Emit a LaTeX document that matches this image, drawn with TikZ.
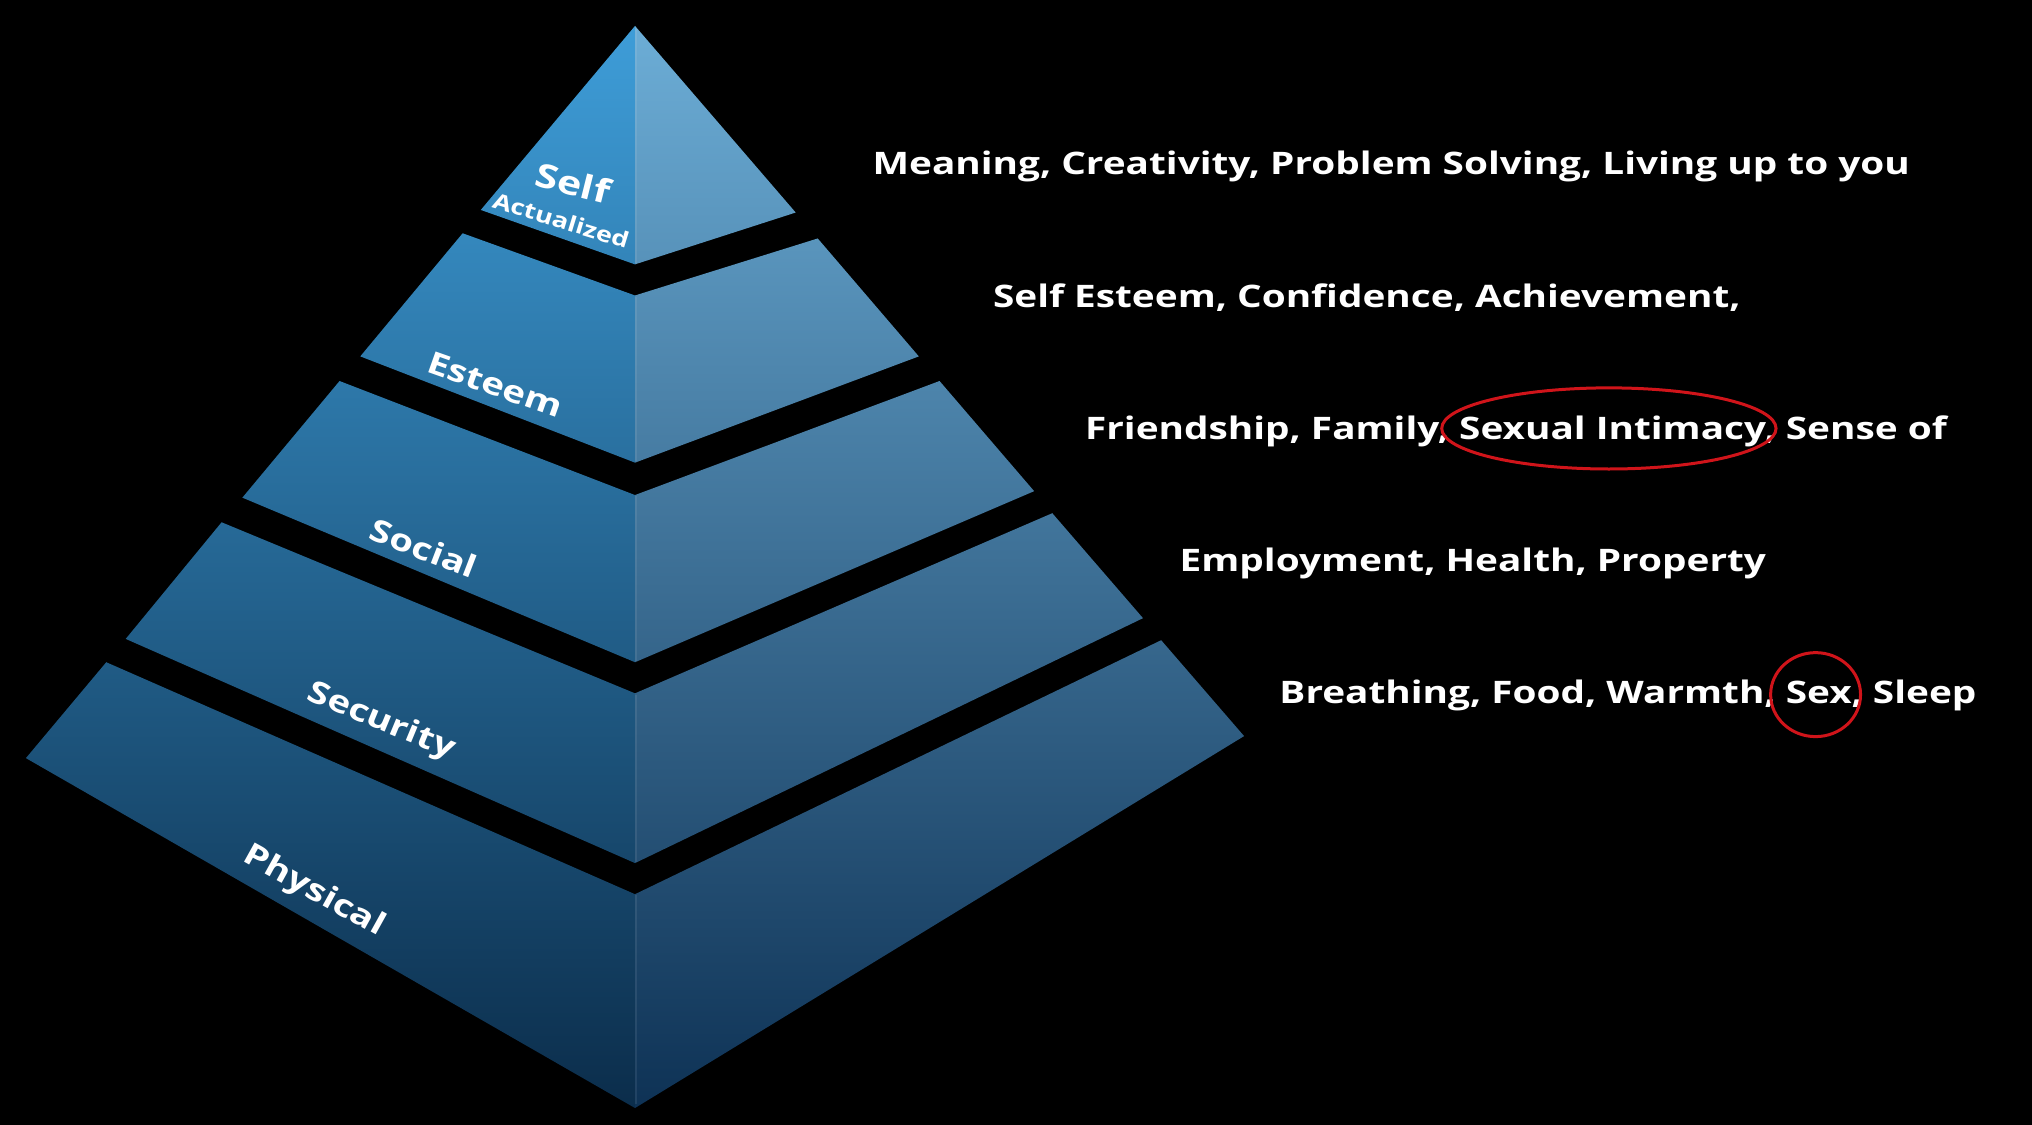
\documentclass[tikz,border=0pt]{standalone}
\usepackage{fontspec}
\setmainfont{Open Sans}
\newfontfamily\widesans[FakeStretch=1.25]{Open Sans}
\definecolor{lefttop}{HTML}{3E9DD8}
\definecolor{leftmid}{HTML}{2270A6}
\definecolor{leftbot}{HTML}{0B2D4B}
\definecolor{righttop}{HTML}{6CADD6}
\definecolor{rightmid}{HTML}{3279AA}
\definecolor{rightbot}{HTML}{0E3255}
\definecolor{ringred}{HTML}{D0141A}
\begin{document}
\begin{tikzpicture}[x=0.648pt,y=-0.648pt,
  needtext/.style={text=white,anchor=base west,inner sep=0pt,font=\widesans\bfseries\fontsize{15.5}{18}\selectfont},
  lvltext/.style={text=white,inner sep=0pt,font=\widesans\bfseries\fontsize{15.4}{18}\selectfont},
  ring/.style={draw=ringred,line width=1.5pt},
  seam/.style={draw=white,draw opacity=0.08,line width=1pt}]
\fill[black] (0,0) rectangle (1568,868);
\useasboundingbox (0,0) rectangle (1568,868);
% left faces
\shade[top color=lefttop,middle color=leftmid,bottom color=leftbot]
  (490,20) -- (371,162) -- (490,204) -- cycle
  (357,180) -- (278,275) -- (490,357) -- (490,228) -- cycle
  (262,294) -- (187,384) -- (490,511) -- (490,382) -- cycle
  (171,403) -- (97,493) -- (490,666) -- (490,535) -- cycle
  (82,511) -- (20,585) -- (490,855) -- (490,690) -- cycle;
% right faces
\shade[top color=righttop,middle color=rightmid,bottom color=rightbot]
  (490,20) -- (490,204) -- (614,164) -- cycle
  (490,228) -- (490,357) -- (709,275) -- (631,184) -- cycle
  (490,382) -- (490,511) -- (798,379) -- (725,294) -- cycle
  (490,535) -- (490,666) -- (882,477) -- (812,396) -- cycle
  (490,690) -- (490,855) -- (960,568) -- (896,494) -- cycle;
% faint ridge between faces
\path[seam] (490.8,22) -- (490.8,203) (490.8,229) -- (490.8,356)
  (490.8,383) -- (490.8,510) (490.8,536) -- (490.8,665) (490.8,691) -- (490.8,852);
% level labels
\node[lvltext,font=\widesans\bfseries\fontsize{16.5}{19}\selectfont,rotate=-14] (self) at (442,141) {Self};
\node[lvltext,font=\widesans\bfseries\fontsize{10.8}{12}\selectfont,rotate=-17] (actual) at (433,170) {Actualized};
\node[lvltext,rotate=-19.5] (esteem) at (382,297) {Esteem};
\node[lvltext,rotate=-21] (social) at (327,423) {Social};
\node[lvltext,rotate=-22.5] (security) at (294,557) {Security};
\node[lvltext,rotate=-29] (physical) at (242,688) {Physical};
% needs
\node[needtext] (n1) at (673,135) {Meaning, Creativity, Problem Solving, Living up to you};
\node[needtext] (n2) at (766,237) {Self Esteem, Confidence, Achievement,};
\node[needtext] (n3) at (837,339) {Friendship, Family, Sexual Intimacy, Sense of};
\node[needtext] (n4) at (910,441) {Employment, Health, Property};
\node[needtext] (n5) at (987,543) {Breathing, Food, Warmth, Sex, Sleep};
% highlights
\draw[ring] (1241.5,330.6) ellipse [x radius=129, y radius=31.3];
\draw[ring] (1401,536) ellipse [x radius=34.7, y radius=32.4];
\end{tikzpicture}
\end{document}
